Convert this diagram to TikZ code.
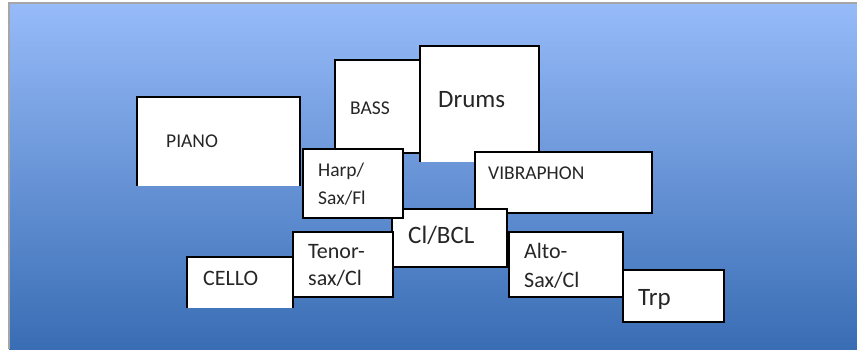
\documentclass[tikz,border=0pt]{standalone}
\usepackage{fontspec}
\setmainfont{Carlito}
\usetikzlibrary{backgrounds}
\definecolor{bgtop}{RGB}{151,187,249}
\definecolor{bgmid}{RGB}{106,147,213}
\definecolor{bgbot}{RGB}{57,109,180}

\begin{document}
\begin{tikzpicture}[x=1pt,y=-1pt,
	box/.style={draw=black,line width=1.6pt,fill=white},
	rim/.style={draw=black,line width=1.6pt},
	lbl/.style={anchor=base west,inner sep=0pt,text=black!85},
	small/.style={font=\fontsize{19.5}{22}\selectfont},
	mid/.style={font=\fontsize{22}{24}\selectfont},
	big/.style={font=\fontsize{25}{28}\selectfont}]

	\useasboundingbox (0,0) rectangle (857,349);
	\shade[top color=bgtop,middle color=bgmid,bottom color=bgbot] (9,3) rectangle (857,349);
	\draw[gray!70,line width=1.5pt] (9,349) -- (9,3) -- (857,3);

	%% back row
	\fill[white] (137,97) rectangle (300,186);
	\draw[rim] (137,186) -- (137,97) -- (300,97) -- (300,186);
	\node[lbl,small] (piano) at (166,147) {PIANO};

	\draw[box] (335,60) rectangle (420,153);
	\node[lbl,small] (bass) at (350,114) {BASS};

	\fill[white] (420,46) rectangle (539,162);
	\draw[rim] (420,162) -- (420,46) -- (539,46) -- (539,162);
	\node[lbl,big] (drums) at (438,107) {Drums};

	\draw[box] (475,152) rectangle (652,213);
	\node[lbl,small] (vib) at (488,179) {VIBRAPHON};

	%% middle
	\draw[box] (392,209) rectangle (507,267);
	\node[lbl,big] (cl) at (408,243) {Cl/BCL};

	\draw[box] (303,149) rectangle (403,218);
	\node[lbl,small] (harpa) at (318,176) {Harp/};
	\node[lbl,small] (harpb) at (318,204) {Sax/Fl};

	%% front row
	\fill[white] (187,257) rectangle (293,308);
	\draw[rim] (187,308) -- (187,257) -- (293,257) -- (293,308);
	\node[lbl,mid] (cello) at (203,285) {CELLO};

	\draw[box] (293,232) rectangle (393,297);
	\node[lbl,mid] (tenora) at (308,258) {Tenor-};
	\node[lbl,mid] (tenorb) at (308,285) {sax/Cl};

	\draw[box] (509,232) rectangle (623,297);
	\node[lbl,mid] (altoa) at (524,258) {Alto-};
	\node[lbl,mid] (altob) at (524,287) {Sax/Cl};

	\draw[box] (623,270) rectangle (724,322);
	\node[lbl,big] (trp) at (638,305) {Trp};
\end{tikzpicture}
\end{document}
